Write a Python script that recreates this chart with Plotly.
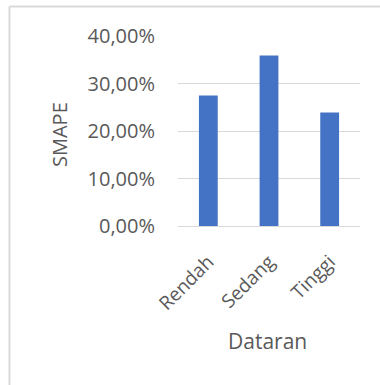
import plotly.graph_objects as go

categories = ["Rendah", "Sedang", "Tinggi"]
smape = [0.275, 0.359, 0.239]
tick_vals = [0, 0.1, 0.2, 0.3, 0.4]
tick_text = ["0,00%", "10,00%", "20,00%", "30,00%", "40,00%"]

L, R, T, B = 178, 20, 36, 159
W, H = 380, 385
pw, ph = W - L - R, H - T - B

def px(x):
    return (x - L) / pw

def py(y):
    return (H - B - y) / ph

fig = go.Figure(go.Bar(x=categories, y=smape, marker=dict(color="#4472C4", line=dict(width=0)), width=0.31))

font_color = "#595959"
fam = "Open Sans"
border = dict(color="#d9d9d9", width=2)
fig.update_layout(
    width=W, height=H,
    margin=dict(l=L, r=R, t=T, b=B),
    paper_bgcolor="white", plot_bgcolor="white",
    font=dict(family=fam, size=20, color=font_color),
    showlegend=False,
    xaxis=dict(tickangle=-45, showgrid=False, showline=False, ticks="", automargin=False,
               ticklabelstandoff=20,
               tickfont=dict(size=19, color=font_color)),
    yaxis=dict(range=[0, 0.4], tickvals=tick_vals, ticktext=tick_text,
               showgrid=True, gridcolor="#d9d9d9", gridwidth=1, automargin=False,
               zeroline=True, zerolinecolor="#d9d9d9", zerolinewidth=1,
               showline=False, ticks="", ticklabelstandoff=22,
               tickfont=dict(size=20, color=font_color)),
    annotations=[
        dict(text="SMAPE", xref="paper", yref="paper", x=px(59.5), y=py(134.5),
             showarrow=False, textangle=-90, font=dict(size=20, color=font_color, family=fam),
             xanchor="center", yanchor="middle"),
        dict(text="Dataran", xref="paper", yref="paper", x=px(267.5), y=py(341),
             showarrow=False, font=dict(size=21, color=font_color, family=fam),
             xanchor="center", yanchor="middle"),
    ],
    shapes=[
        dict(type="line", xref="paper", yref="paper", x0=px(9.5), x1=px(400), y0=py(6.5), y1=py(6.5), line=border),
        dict(type="line", xref="paper", yref="paper", x0=px(9.5), x1=px(9.5), y0=py(6.5), y1=py(400), line=border),
    ],
)
fig.write_html("out.html", config={"displayModeBar": False},
               post_script="document.body.style.margin='0';document.body.style.overflow='hidden';")
